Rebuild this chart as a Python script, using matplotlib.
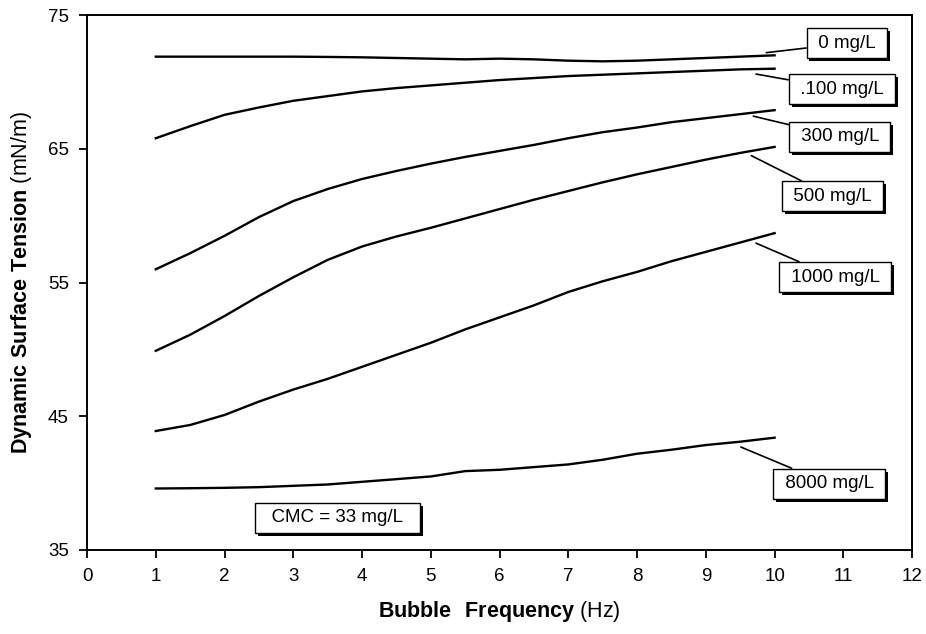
import matplotlib
matplotlib.use('Agg')
import matplotlib.pyplot as plt
import matplotlib.patheffects as pe

# Fonte parecida com Arial
plt.rcParams['font.family'] = ['Liberation Sans', 'DejaVu Sans']
plt.rcParams['mathtext.fontset'] = 'custom'
plt.rcParams['mathtext.rm'] = 'Liberation Sans'
plt.rcParams['mathtext.bf'] = 'Liberation Sans:bold'

# Dados (frequência em Hz, tensão em mN/m)
freq = [1, 1.5, 2, 2.5, 3, 3.5, 4, 4.5, 5, 5.5, 6, 6.5, 7, 7.5, 8, 8.5, 9, 9.5, 10]
t_0 = [71.9, 71.9, 71.9, 71.9, 71.9, 71.88, 71.85, 71.8, 71.75, 71.7, 71.75, 71.7,
       71.6, 71.55, 71.6, 71.7, 71.8, 71.9, 72.0]
t_100 = [65.8, 66.7, 67.55, 68.1, 68.6, 68.95, 69.3, 69.55, 69.75, 69.95, 70.15, 70.3,
         70.45, 70.55, 70.65, 70.75, 70.85, 70.95, 71.0]
t_300 = [56.0, 57.2, 58.5, 59.9, 61.1, 62.0, 62.75, 63.35, 63.9, 64.4, 64.85, 65.3,
         65.8, 66.25, 66.6, 67.0, 67.3, 67.6, 67.9]
t_500 = [49.9, 51.1, 52.5, 54.0, 55.4, 56.7, 57.7, 58.45, 59.1, 59.8, 60.5, 61.2,
         61.85, 62.5, 63.1, 63.65, 64.2, 64.7, 65.15]
t_1000 = [43.9, 44.35, 45.1, 46.1, 47.0, 47.8, 48.7, 49.6, 50.5, 51.5, 52.4, 53.3,
          54.3, 55.1, 55.8, 56.6, 57.3, 58.0, 58.7]
t_8000 = [39.6, 39.62, 39.65, 39.7, 39.8, 39.9, 40.1, 40.3, 40.5, 40.9, 41.0, 41.2,
          41.4, 41.75, 42.2, 42.5, 42.85, 43.1, 43.4]

series = [t_0, t_100, t_300, t_500, t_1000, t_8000]
labels = ['0 mg/L', '.100 mg/L', '300 mg/L', '500 mg/L', '1000 mg/L', '8000 mg/L']
# ponto da curva onde sai a linha de chamada e posição da caixa
label_xy = [(9.88, 72.2), (9.73, 70.6), (9.69, 67.45), (9.66, 64.5), (9.73, 57.95), (9.51, 42.7)]
label_txt = [(11.05, 72.9), (10.98, 69.45), (10.95, 65.9), (10.84, 61.45), (10.88, 55.4), (10.79, 39.95)]

fig = plt.figure(figsize=(9.26, 6.34), dpi=100)
ax = fig.add_axes([0.094, 0.1325, 0.891, 0.8435])

for s in series:
    ax.plot(freq, s, color='black', linewidth=1.7)

sombra = [pe.withSimplePatchShadow(offset=(2, -2), shadow_rgbFace='black', alpha=1.0)]
caixa = dict(boxstyle='square,pad=0.35', facecolor='white', edgecolor='black', linewidth=1.0)

for lab, xy, xyt in zip(labels, label_xy, label_txt):
    t = ax.annotate(' ' + lab + ' ', xy=xy, xytext=xyt, ha='center', va='center', fontsize=13.5,
                    bbox=caixa, arrowprops=dict(arrowstyle='-', color='black', lw=1.2,
                                                shrinkA=0, shrinkB=0))
    t.get_bbox_patch().set_path_effects(sombra)

t = ax.text(3.64, 37.4, '  CMC = 33 mg/L  ', ha='center', va='center', fontsize=13.5, bbox=caixa)
t.get_bbox_patch().set_path_effects(sombra)

ax.set_xlim(0, 12)
ax.set_ylim(35, 75)
ax.set_xticks(range(0, 13))
ax.set_yticks([35, 45, 55, 65, 75])
ax.tick_params(direction='out', length=6, width=1.3, labelsize=13.5, pad=7)
for sp in ax.spines.values():
    sp.set_linewidth(1.4)

ax.set_xlabel(r'$\bf{Bubble\ \ Frequency}$ (Hz)', fontsize=15.5, labelpad=10)
ax.set_ylabel(r'$\bf{Dynamic\ Surface\ Tension}$ (mN/m)', fontsize=15.5, labelpad=10)

fig.savefig('out.png', dpi=100)
plt.close(fig)
